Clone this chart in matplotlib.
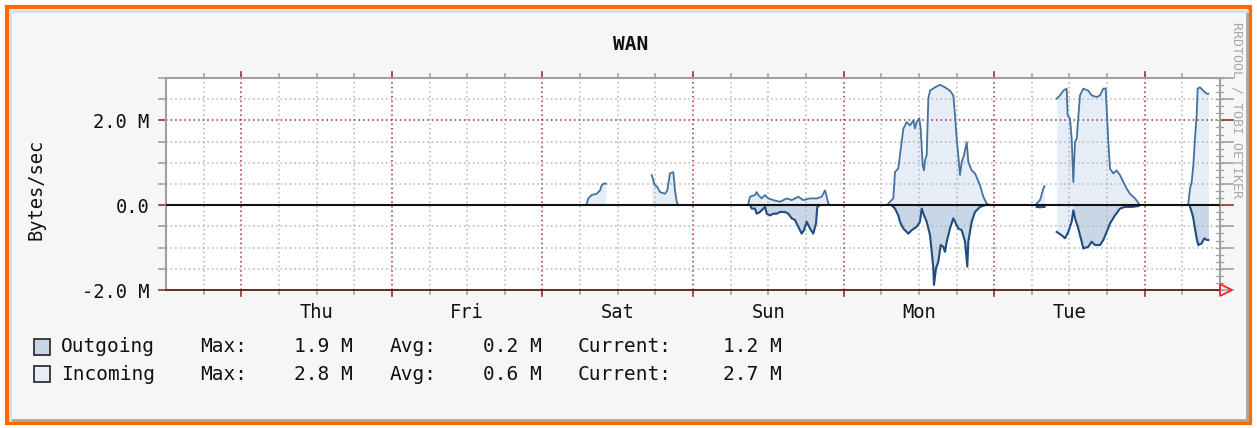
import numpy as np
import matplotlib
matplotlib.use("Agg")
import matplotlib.pyplot as plt
import matplotlib.transforms as mtransforms
from matplotlib.patches import Rectangle

# hours since Wed 12:00, values in MBytes/sec (NaN splits segments)
in_hours = [
    67.06, 67.31, 67.85, 68.65, 69.18, 69.45, 69.81, 70.13, np.nan,
    77.42, 77.67, 77.94, 78.31, 78.74, 79.54, 79.90, 80.33, 80.86, 81.13, 81.40, 81.66, np.nan,
    92.82, 93.09, 93.88, 94.15, 94.41, 94.95, 95.48, 96.00, 96.80, 97.87, 98.93, 99.73,
    100.78, 101.58, 102.65, 103.72, 104.51, 105.04, 105.31, 105.57, 105.84, np.nan,
    115.13, 115.93, 116.20, 116.72, 117.26, 117.52, 118.06, 118.59, 119.12, 119.38, 119.65,
    120.07, 120.29, 120.61, 120.82, 120.98, 121.25, 121.51, 121.78, 122.57, 123.37, 124.17,
    124.96, 125.49, 125.76, 126.03, 126.28, 126.56, 126.83, 127.20, 127.63, 127.88, 128.42,
    128.95, 129.75, 130.27, 130.81, 131.34, np.nan,
    138.78, 139.31, 139.84, 140.03, np.nan,
    141.97, 142.50, 143.02, 143.56, 143.72, 144.09, 144.36, 144.62, 144.89, 145.16, 145.68,
    146.21, 147.01, 147.55, 148.35, 148.87, 149.40, 149.78, 149.94, 150.20, 150.47, 150.99,
    151.53, 152.06, 152.58, 153.12, 153.65, 154.45, 155.25, np.nan,
    162.95, 163.22, 163.49, 163.75, 164.01, 164.28, 164.44, 164.81, 165.34, 165.88, 166.15,
]
in_vals = [
    0.04, 0.16, 0.24, 0.27, 0.35, 0.47, 0.51, 0.51, np.nan,
    0.71, 0.59, 0.47, 0.43, 0.31, 0.27, 0.35, 0.75, 0.78, 0.35, 0.08, 0.0, np.nan,
    0.04, 0.20, 0.24, 0.31, 0.24, 0.16, 0.24, 0.16, 0.12, 0.08, 0.16, 0.12,
    0.20, 0.12, 0.16, 0.16, 0.20, 0.35, 0.20, 0.04, 0.0, np.nan,
    0.04, 0.16, 0.78, 0.87, 1.49, 1.80, 1.96, 1.88, 2.00, 1.81, 1.96,
    2.05, 1.80, 0.94, 0.82, 1.06, 1.18, 2.51, 2.70, 2.78, 2.84, 2.78,
    2.70, 2.59, 2.12, 1.57, 1.18, 0.71, 1.02, 1.18, 1.49, 1.02, 0.82,
    0.75, 0.47, 0.20, 0.04, 0.0, np.nan,
    0.04, 0.12, 0.39, 0.45, np.nan,
    2.51, 2.59, 2.70, 2.75, 2.12, 2.04, 1.57, 0.55, 1.49, 1.57, 2.59,
    2.75, 2.70, 2.59, 2.55, 2.59, 2.75, 2.75, 2.27, 1.49, 0.86, 0.75,
    0.82, 0.71, 0.55, 0.39, 0.27, 0.16, 0.0, np.nan,
    0.04, 0.39, 0.55, 0.94, 1.57, 2.12, 2.75, 2.78, 2.70, 2.63, 2.63,
]

out_hours = [
    93.09, 93.35, 93.88, 94.15, 94.68, 95.48, 95.75, 96.28, 96.80, 97.34, 97.87, 98.66,
    99.19, 99.73, 100.26, 100.78, 101.32, 101.69, 102.12, 102.65, 103.17, 103.61, 103.81,
    104.24, np.nan,
    115.67, 116.20, 116.72, 116.99, 117.52, 118.32, 118.86, 119.65, 120.18, 120.45, 120.82,
    121.25, 121.78, 122.05, 122.31, 122.41, 122.73, 123.10, 123.48, 123.90, 124.17, 124.44,
    124.96, 125.49, 126.28, 126.83, 127.36, 127.72, 127.88, 128.42, 128.95, 129.75, 130.54,
    np.nan,
    138.78, 139.31, 139.84, 140.03, np.nan,
    141.97, 142.77, 143.29, 143.82, 144.36, 144.62, 144.89, 145.41, 145.95, 146.21, 147.01,
    147.55, 148.08, 148.87, 149.40, 149.94, 150.47, 151.26, 152.06, 152.85, 153.93, 154.98,
    np.nan,
    163.22, 163.49, 163.75, 164.01, 164.28, 164.54, 165.08, 165.50, 165.88, 166.15,
]
out_vals = [
    0.0, -0.08, -0.08, -0.20, -0.16, -0.04, -0.20, -0.24, -0.20, -0.20, -0.16, -0.16,
    -0.20, -0.31, -0.35, -0.51, -0.67, -0.59, -0.39, -0.55, -0.67, -0.43, -0.04,
    0.0, np.nan,
    0.0, -0.08, -0.24, -0.39, -0.55, -0.67, -0.59, -0.51, -0.39, -0.08, -0.24,
    -0.39, -0.71, -1.10, -1.49, -1.88, -1.49, -1.33, -0.94, -0.98, -1.10, -0.86,
    -0.55, -0.31, -0.55, -0.59, -0.86, -1.45, -0.86, -0.39, -0.16, -0.04, 0.0,
    np.nan,
    -0.04, -0.05, -0.04, -0.04, np.nan,
    -0.63, -0.71, -0.78, -0.63, -0.39, -0.12, -0.31, -0.55, -0.86, -1.02, -0.98,
    -0.86, -0.94, -0.94, -0.82, -0.63, -0.43, -0.24, -0.08, -0.04, -0.04, -0.02,
    np.nan,
    -0.04, -0.16, -0.31, -0.55, -0.78, -0.94, -0.90, -0.78, -0.82, -0.82,
]
pale_span = (141.9, 144.5)   # outgoing fill drawn pale here

day_pos = [24, 48, 72, 96, 120, 144]
day_labels = ["Thu", "Fri", "Sat", "Sun", "Mon", "Tue"]
y_ticks = [-2, 0, 2]
y_ticklabels = ["-2.0 M", "0.0", "2.0 M"]

legend_rows = [
    ("Outgoing", "1.9 M", "0.2 M", "1.2 M"),
    ("Incoming", "2.8 M", "0.6 M", "2.7 M"),
]

W, H = 1257, 428
MONO = "DejaVu Sans Mono"
RED = "#a52a2a"
GREY = "#b4b4b4"
IN_FILL = "#e6edf7"
OUT_FILL = "#c9d6e8"
IN_LINE = "#44729f"
OUT_LINE = "#1f4d7e"


def fx(px):
    return px / W


def fy(py):
    return 1 - py / H


def segments(h, v):
    h = np.asarray(h, float)
    v = np.asarray(v, float)
    breaks = np.where(np.isnan(h))[0]
    out = []
    start = 0
    for b in list(breaks) + [len(h)]:
        if b > start:
            out.append((h[start:b], v[start:b]))
        start = b + 1
    return out


fig = plt.figure(figsize=(W / 100, H / 100), dpi=100)
fig.patch.set_facecolor("white")
# orange frame + grey page
fig.patches.append(Rectangle((fx(7), fy(423)), fx(1250) - fx(7), fy(7) - fy(423),
                             transform=fig.transFigure, facecolor="#f6f6f6",
                             edgecolor="#ff6a00", linewidth=3, zorder=-10))
for xs, ys, c in [((1247, 1247), (12, 420), "#a8a8a8"), ((10, 1247), (420, 420), "#a8a8a8"),
                  ((10, 1247), (11, 11), "#dddddd"), ((10, 10), (11, 420), "#dddddd")]:
    fig.add_artist(plt.Line2D([fx(xs[0]), fx(xs[1])], [fy(ys[0]), fy(ys[1])], color=c,
                              lw=2, transform=fig.transFigure, zorder=-5))

ax = fig.add_axes([fx(166), fy(290), fx(1220) - fx(166), fy(78) - fy(290)])
ax.set_zorder(1)
ax.set_facecolor("white")
ax.set_xlim(0, 168)
ax.set_ylim(-2, 3)

# grid
for h in range(6, 168, 6):
    major = (h - 12) % 24 == 0
    ax.axvline(h, color=RED if major else GREY, lw=1.1, ls=(0, (1, 2)), zorder=2)
for v in np.arange(-1.5, 3.0, 0.5):
    if abs(v) < 1e-9:
        continue
    ax.axhline(v, color=RED if abs(v - 2) < 1e-9 else GREY, lw=1.1, ls=(0, (1, 2)), zorder=2)

# data
for h, v in segments(in_hours, in_vals):
    ax.fill_between(h, 0, v, color=IN_FILL, lw=0, zorder=1)
    ax.plot(h, v, color=IN_LINE, lw=1.3, zorder=3)
for h, v in segments(out_hours, out_vals):
    pale = (h >= pale_span[0]) & (h <= pale_span[1])
    ax.fill_between(h, 0, v, where=~pale | np.roll(~pale, -1), color=OUT_FILL, lw=0, zorder=1)
    if pale.any():
        ax.fill_between(h, 0, v, where=pale | np.roll(pale, 1), color=IN_FILL, lw=0, zorder=1)
    ax.plot(h, v, color=OUT_LINE, lw=1.5, zorder=3)

ax.axhline(0, color="#111111", lw=1.5, zorder=4)

# axes frame
for side in ("top", "left", "right"):
    ax.spines[side].set_color("#a0a0a0")
    ax.spines[side].set_linewidth(1.5)
ax.spines["bottom"].set_color("#5a1a1a")
ax.spines["bottom"].set_linestyle((0, (1, 1)))
ax.spines["bottom"].set_linewidth(1.3)
ax.plot([168.9], [-2], marker=">", ms=8, mfc="none", mec="#ff2020", mew=1.3,
        clip_on=False, zorder=5)

# tick marks on edges
tx = mtransforms.blended_transform_factory(ax.transData, ax.transAxes)
for h in range(6, 168, 6):
    major = (h - 12) % 24 == 0
    c = RED if major else "#a0a0a0"
    ext = 0.03 if major else 0.018
    ax.plot([h, h], [1.0, 1.0 + ext], color=c, lw=1.2, transform=tx, clip_on=False)
    ax.plot([h, h], [0.0, -ext], color=c, lw=1.2, transform=tx, clip_on=False)
ty = mtransforms.blended_transform_factory(ax.transAxes, ax.transData)
for v in np.arange(-2.0, 3.01, 0.5):
    c = RED if abs(v) < 1e-9 or abs(abs(v) - 2) < 1e-9 else "#a0a0a0"
    ax.plot([0.0, -0.007], [v, v], color=c, lw=1.2, transform=ty, clip_on=False)
for v in np.arange(-2.0, 3.01, 1 / 6):
    ax.plot([0.996, 1.003], [v, v], color="#a0a0a0", lw=0.9, transform=ty, clip_on=False)
for v in np.arange(-2.0, 3.01, 0.5):
    c = RED if abs(v) < 1e-9 or abs(v - 2) < 1e-9 else "#a0a0a0"
    ax.plot([1.0, 1.012], [v, v], color=c, lw=1.2, transform=ty, clip_on=False)

ax.set_xticks(day_pos, day_labels)
ax.set_yticks(y_ticks, y_ticklabels)
ax.tick_params(axis="both", length=0, labelsize=13.5, colors="#111111")
ax.tick_params(axis="x", pad=9)
ax.tick_params(axis="y", pad=12)
for lab in ax.get_xticklabels() + ax.get_yticklabels():
    lab.set_family(MONO)

# texts
fig.text(fx(631), fy(45), "WAN", ha="center", va="center", family=MONO,
         fontsize=14, fontweight="bold", color="#111111")
fig.text(fx(36), fy(189), "Bytes/sec", ha="center", va="center", rotation=90,
         family=MONO, fontsize=13.5, color="#111111")
fig.text(fx(1237), fy(110), "RRDTOOL / TOBI OETIKER", ha="center", va="center",
         rotation=270, family=MONO, fontsize=9.5, color="#a8a8a8")

# legend
swatch = [OUT_FILL, IN_FILL]
row_y = [347, 374]
for (name, mx, avg, cur), col, y in zip(legend_rows, swatch, row_y):
    fig.patches.append(Rectangle((fx(34), fy(y + 8)), fx(16), 16 / H,
                                 transform=fig.transFigure, facecolor=col,
                                 edgecolor="#222222", lw=1.2))
    kw = dict(va="center", family=MONO, fontsize=14, color="#111111")
    fig.text(fx(61), fy(y), name, ha="left", **kw)
    fig.text(fx(200), fy(y), "Max:", ha="left", **kw)
    fig.text(fx(353), fy(y), mx, ha="right", **kw)
    fig.text(fx(390), fy(y), "Avg:", ha="left", **kw)
    fig.text(fx(542), fy(y), avg, ha="right", **kw)
    fig.text(fx(578), fy(y), "Current:", ha="left", **kw)
    fig.text(fx(782), fy(y), cur, ha="right", **kw)

fig.savefig("out.png", dpi=100, facecolor=fig.get_facecolor())
